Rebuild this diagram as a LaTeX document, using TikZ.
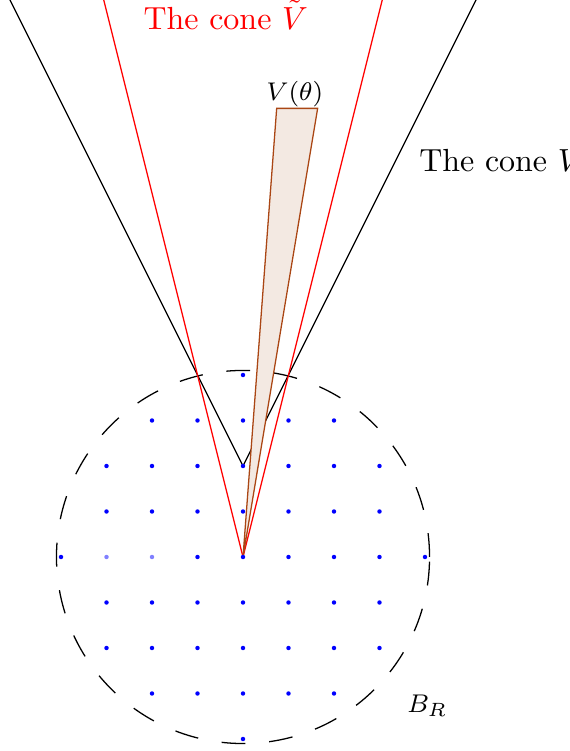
\documentclass[tikz,border=0pt]{standalone}
\usepackage{amsmath,amssymb}
\usepackage{tikz}
\usetikzlibrary{calc}
\usepackage{xcolor}
\definecolor{wedgeline}{RGB}{170,70,20}
\definecolor{wedgefill}{RGB}{243,233,226}

\begin{document}
\begin{tikzpicture}[scale=0.5]
    \clip (-5.341,-4.264) rectangle (7.165,12.242);
    \coordinate (O) at (0,0);
    \coordinate (A) at (0,2);

    % ball B_R
    \draw[dash pattern=on 7.45pt off 7.45pt] (O) circle (4.1);

    % the cone V
    \draw (A) -- ($(A)+(-5.5,11)$);
    \draw (A) -- ($(A)+(5.5,11)$);

    % the cone V tilde
    \draw[red] (O) -- (-3.2,12.8);
    \draw[red] (O) -- (3.2,12.8);

    % V(theta)
    \draw[wedgeline, fill=wedgefill] (O) -- (0.74,9.86) -- (1.64,9.86) -- cycle;

    \foreach \i in {-4,...,4} {
        \foreach \j in {-4,...,4} {
            \pgfmathtruncatemacro{\r}{\i*\i+\j*\j}
            \pgfmathtruncatemacro{\pale}{(\j==0)&&(\i==-3||\i==-2)}
            \ifnum\r<17
                \ifnum\pale=1
                    \fill[blue!50] (\i,\j) circle (1.4pt);
                \else
                    \fill[blue] (\i,\j) circle (1.4pt);
                \fi
            \fi
        }
    }

    \node[red, inner sep=0pt, anchor=base] (tlabel) at (-0.38,11.60) {The cone $\tilde{V}$};
    \node[inner sep=0pt, anchor=base west] (vlabel) at (3.86,8.48) {The cone $V$};
    \node[inner sep=0pt, anchor=base, font=\fontsize{8.5}{10}\selectfont] (wlabel) at (1.14,10.04) {$V(\theta)$};
    \node[inner sep=0pt, anchor=base west, font=\fontsize{8.5}{10}\selectfont] (blabel) at (3.6,-3.41) {$B_R$};
\end{tikzpicture}
\end{document}
